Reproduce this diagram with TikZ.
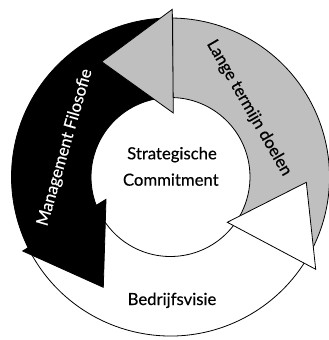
\documentclass[tikz,border=0pt]{standalone}
\usepackage{fontspec}
\setmainfont{Lato}
\newfontfamily\labelfont{Lato}[FakeBold=0.4]
\begin{document}
\begin{tikzpicture}[x=1pt,y=1pt,
  outline/.style={draw=black, line width=0.8pt, line join=miter},
  lbl/.style={font=\labelfont\fontsize{16.7}{20}\selectfont, inner sep=0pt}]
\useasboundingbox (-170.5,-163) rectangle (158.5,177);
\def\outR{159}
\def\inR{79.5}
% arrow head corners
\coordinate (gTop) at (1.8,167.7);
\coordinate (gTip) at (-68.8,115.3);
\coordinate (gBot) at (2.8,64);
\coordinate (kOut) at (-147.8,-74);
\coordinate (kTip) at (-67.2,-110.3);
\coordinate (kIn) at (-64.5,-22.3);
\coordinate (wIn) at (56.8,-45.3);
\coordinate (wOut) at (145.2,-92.3);
\coordinate (wTip) at (135.8,-5.3);
% white band along the bottom
\path[outline, fill=white] (204:\inR) -- (208:\outR)
  arc[start angle=208, end angle=330, radius=\outR]
  -- (325:\inR) arc[start angle=325, end angle=204, radius=\inR] -- cycle;
% black arrow on the left
\path[outline, fill=black] (90:\inR) -- (90:\outR)
  arc[start angle=90, end angle=206.4, radius=\outR]
  -- (kOut) -- (kTip) -- (kIn) -- (200.9:\inR)
  arc[start angle=200.9, end angle=90, radius=\inR] -- cycle;
% grey band on the right
\path[outline, fill=black!25] (-31:\inR) -- (-28:\outR)
  arc[start angle=-28, end angle=89.2, radius=\outR]
  -- (88.3:\inR) arc[start angle=88.3, end angle=-31, radius=\inR] -- cycle;
% grey head
\path[outline, fill=black!25] (gTop) -- (gTip) -- (gBot) -- cycle;
% white head
\path[outline, fill=white] (wIn) -- (wOut) -- (wTip) -- cycle;
% labels
\node[lbl, anchor=base] (core1) at (1.5,17.7) {Strategische};
\node[lbl, anchor=base] (core2) at (0.3,-8.7) {Commitment};
\node[lbl, anchor=base] (visie) at (1.5,-128) {Bedrijfsvisie};
\node[lbl, text=white, rotate=74] (filo) at (-105.5,29.5) {Management Filosofie};
\node[lbl, rotate=-60] (doel) at (78.5,69) {Lange termijn doelen};
\end{tikzpicture}
\end{document}
